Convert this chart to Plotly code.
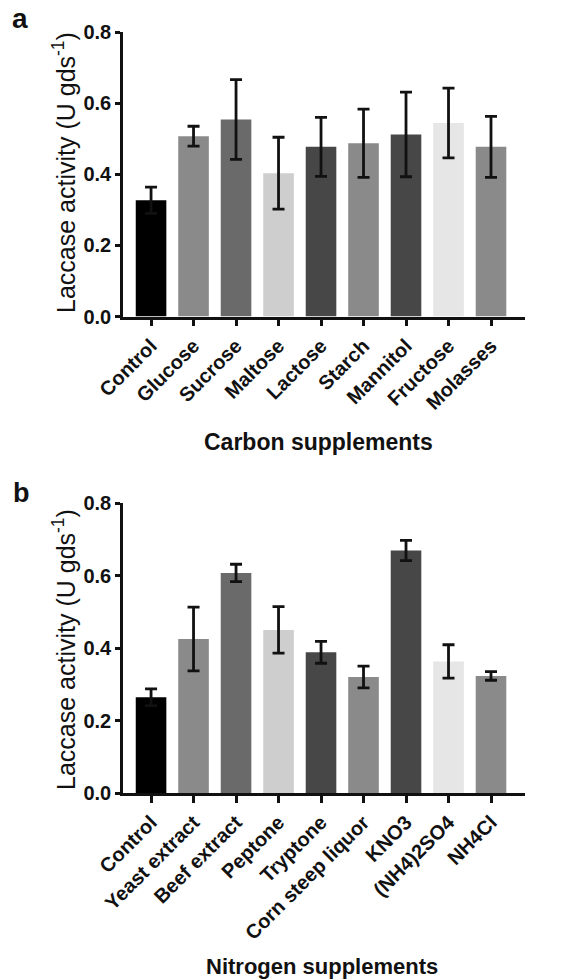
import plotly.graph_objects as go

carbon_labels = ["Control", "Glucose", "Sucrose", "Maltose", "Lactose", "Starch", "Mannitol", "Fructose", "Molasses"]
carbon_values = [0.327, 0.507, 0.554, 0.403, 0.477, 0.487, 0.512, 0.544, 0.477]
carbon_errors = [0.037, 0.028, 0.112, 0.101, 0.083, 0.096, 0.119, 0.098, 0.086]

nitrogen_labels = ["Control", "Yeast extract", "Beef extract", "Peptone", "Tryptone",
                   "Corn steep liquor", "KNO3", "(NH4)2SO4", "NH4Cl"]
nitrogen_values = [0.264, 0.425, 0.607, 0.450, 0.388, 0.320, 0.669, 0.363, 0.323]
nitrogen_errors = [0.023, 0.088, 0.024, 0.064, 0.030, 0.030, 0.028, 0.046, 0.012]

bar_colors = ["#000000", "#8a8a8a", "#6a6a6a", "#cecece", "#474747", "#8a8a8a", "#474747", "#e6e6e6", "#8a8a8a"]

y_ticks = [0.0, 0.2, 0.4, 0.6, 0.8]
y_ticktext = ["0.0", "0.2", "0.4", "0.6", "0.8"]

# page body has an 8px default margin; size the figure to fit the 562x979 window
OFF = 8
W, H = 562 - OFF, 979 - OFF


def px(sx):
    return (sx - OFF) / W


def py(sy):
    return 1 - (sy - OFF) / H


fig = go.Figure()


def add_bars(labels, values, errors, xa, ya):
    fig.add_trace(go.Bar(
        x=labels, y=values, xaxis=xa, yaxis=ya,
        marker=dict(color=bar_colors, line=dict(width=0)),
        error_y=dict(type="data", array=errors, visible=True, color="#111111",
                     thickness=2.8, width=6),
        width=0.72, showlegend=False,
    ))


add_bars(carbon_labels, carbon_values, carbon_errors, "x", "y")
add_bars(nitrogen_labels, nitrogen_values, nitrogen_errors, "x2", "y2")

font_tick = dict(family="Liberation Sans, Arial", size=20, color="#111111", weight="bold")
axis_common = dict(showline=True, linecolor="#111111", linewidth=2.6, ticks="outside",
                   tickcolor="#111111", tickwidth=2.5, showgrid=False, zeroline=False,
                   automargin=False, fixedrange=True)

xdom = [px(123), px(525)]
xrange_ = [-0.66, 8.8]

fig.update_layout(
    width=W, height=H,
    margin=dict(l=0, r=0, t=0, b=0),
    paper_bgcolor="white", plot_bgcolor="white",
    xaxis=dict(domain=xdom, anchor="y", range=xrange_, tickangle=-45,
               ticklen=7, tickfont=font_tick, **axis_common),
    yaxis=dict(domain=[py(316.5), py(32)], anchor="x", range=[0, 0.8], tickvals=y_ticks,
               ticktext=y_ticktext, ticklen=5, tickfont=font_tick, **axis_common),
    xaxis2=dict(domain=xdom, anchor="y2", range=xrange_, tickangle=-45,
                ticklen=7, tickfont=font_tick, **axis_common),
    yaxis2=dict(domain=[py(793), py(503)], anchor="x2", range=[0, 0.8], tickvals=y_ticks,
                ticktext=y_ticktext, ticklen=5, tickfont=font_tick, **axis_common),
)

title_font = dict(family="Liberation Sans, Arial", size=25, color="#111111")
ytitle = "Laccase activity (U gds<sup>-1</sup>)"
annos = [
    dict(text=ytitle, x=px(64), y=py(173), textangle=-90, font=title_font),
    dict(text=ytitle, x=px(64), y=py(650), textangle=-90, font=title_font),
    dict(text="<b>Carbon supplements</b>", x=px(318), y=py(442), font=dict(title_font, size=23)),
    dict(text="<b>Nitrogen supplements</b>", x=px(322), y=py(966), font=dict(title_font, size=22)),
    dict(text="<b>a</b>", x=px(20), y=py(19), font=dict(title_font, size=28)),
    dict(text="<b>b</b>", x=px(21), y=py(493), font=dict(title_font, size=27)),
]
for a in annos:
    fig.add_annotation(xref="paper", yref="paper", showarrow=False,
                       xanchor="center", yanchor="middle", **a)

fig.write_html("out.html")
